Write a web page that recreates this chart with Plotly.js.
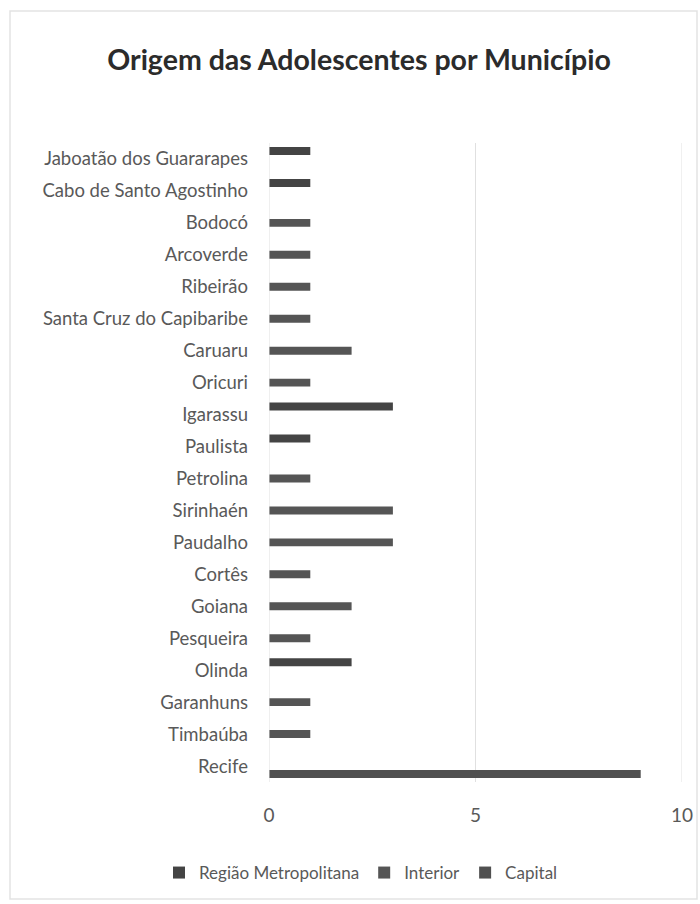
<!DOCTYPE html>
<html>
<head>
<meta charset="utf-8">
<script src="https://cdn.plot.ly/plotly-3.0.1.min.js"></script>
<style>
html,body{margin:0;padding:0;background:#fff;}
#chart{width:700px;height:904px;}
</style>
</head>
<body>
<div id="chart"></div>
<script>
// Categories, top to bottom
const categories = [
  "Jaboatão dos Guararapes",
  "Cabo de Santo Agostinho",
  "Bodocó",
  "Arcoverde",
  "Ribeirão",
  "Santa Cruz do Capibaribe",
  "Caruaru",
  "Oricuri",
  "Igarassu",
  "Paulista",
  "Petrolina",
  "Sirinhaén",
  "Paudalho",
  "Cortês",
  "Goiana",
  "Pesqueira",
  "Olinda",
  "Garanhuns",
  "Timbaúba",
  "Recife"
];
const regiaoMetropolitana = [1, 1, null, null, null, null, null, null, 3, 1, null, null, null, null, null, null, 2, null, null, null];
const interior            = [null, null, 1, 1, 1, 1, 2, 1, null, null, 1, 3, 3, 1, 2, 1, null, 1, 1, null];
const capital             = [null, null, null, null, null, null, null, null, null, null, null, null, null, null, null, null, null, null, null, 9];
const seriesNames = ["Região Metropolitana", "Interior", "Capital"];
const xTicks = [0, 5, 10];

const colors = ["#444444", "#555555", "#505050"];
const seriesValues = [regiaoMetropolitana, interior, capital];

const font = "Lato, 'Open Sans', sans-serif";

const traces = seriesValues.map((vals, i) => ({
  type: "bar",
  orientation: "h",
  name: seriesNames[i],
  y: categories,
  x: vals,
  marker: {color: colors[i]},
  hoverinfo: "x+y+name"
}));

// plot-area pixel geometry
const L = 269, R = 18, T = 143, B = 122;
const W = 700 - L - R, H = 904 - T - B;
const px = x => (x - L) / W;
const py = y => (904 - B - y) / H;

const layout = {
  width: 700,
  height: 904,
  margin: {l: L, r: R, t: T, b: B, pad: 0, autoexpand: false},
  paper_bgcolor: "#ffffff",
  plot_bgcolor: "#ffffff",
  barmode: "group",
  bargap: 0.25,
  bargroupgap: 0,
  title: {
    text: "Origem das Adolescentes por Município",
    font: {family: font, size: 28.5, color: "#2b2b2b", weight: "bold"},
    x: px(359), xref: "paper", xanchor: "center",
    y: 1 - 60 / 904, yanchor: "middle"
  },
  xaxis: {
    range: [0, 10],
    tickvals: xTicks,
    ticktext: xTicks.map(String),
    showgrid: true,
    gridcolor: "#e0e0e0",
    gridwidth: 1,
    zeroline: false,
    showline: false,
    ticks: "",
    ticklabelstandoff: 20,
    tickfont: {family: font, size: 19, color: "#595959"},
    fixedrange: true
  },
  yaxis: {
    type: "category",
    categoryorder: "array",
    categoryarray: categories,
    autorange: "reversed",
    showgrid: false,
    zeroline: false,
    showline: false,
    ticks: "",
    ticklabelstandoff: 20,
    tickfont: {family: font, size: 18.5, color: "#595959"},
    fixedrange: true
  },
  shapes: [
    {type: "line", xref: "x", yref: "paper", x0: 0, x1: 0, y0: 0, y1: 1,
     line: {color: "#e0e0e0", width: 1}},
    {type: "line", xref: "x", yref: "paper", x0: 10, x1: 10, y0: 0, y1: 1,
     line: {color: "#e0e0e0", width: 1}, layer: "below"},
    {type: "rect", xref: "paper", yref: "paper",
     x0: px(10), x1: px(697), y0: py(11), y1: py(899),
     line: {color: "#e3e3e3", width: 1.5}, fillcolor: "rgba(0,0,0,0)", layer: "below"}
  ],
  showlegend: true,
  legend: {
    orientation: "h",
    x: px(361), xanchor: "center",
    y: py(873), yanchor: "middle",
    font: {family: font, size: 17, color: "#595959"},
    itemwidth: 30,
    itemclick: false,
    itemdoubleclick: false,
    tracegroupgap: 0
  }
};

Plotly.newPlot("chart", traces, layout, {displayModeBar: false, staticPlot: true});
</script>
</body>
</html>
